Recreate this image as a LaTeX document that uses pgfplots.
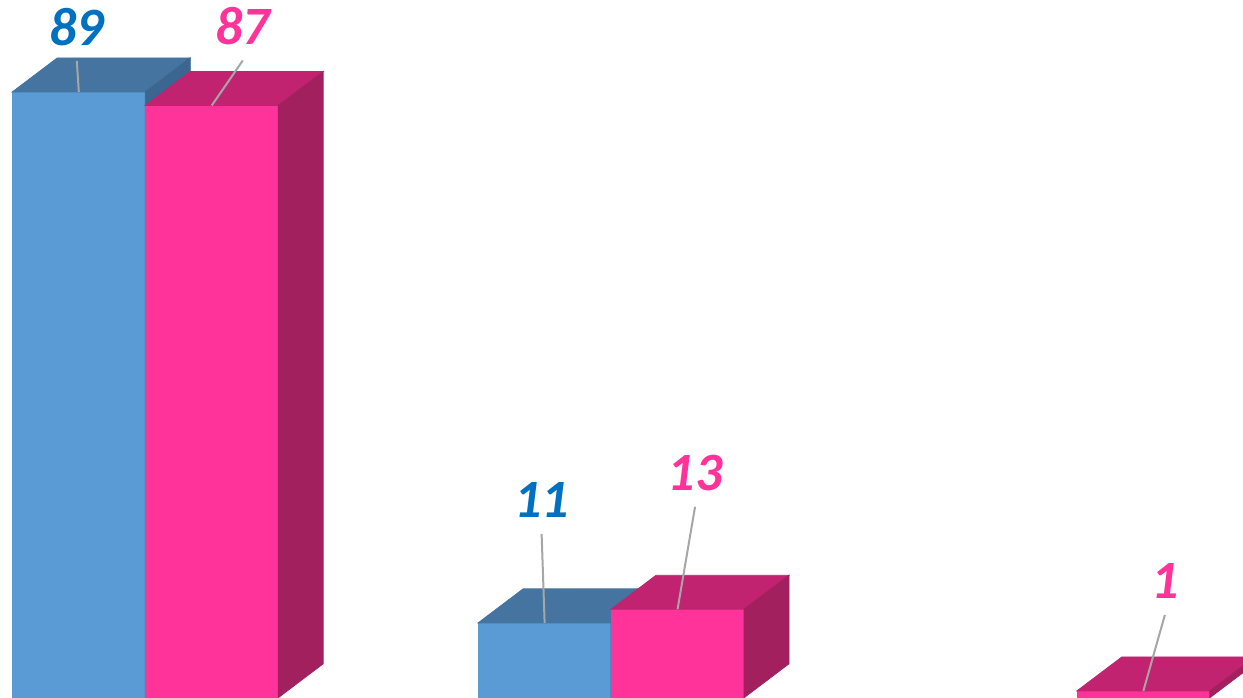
\documentclass[border=0pt]{standalone}
\usepackage{pgfplots}
\pgfplotsset{compat=1.18}
\usepackage{fontspec}
\setmainfont{Carlito}

\definecolor{bluefront}{HTML}{5B9BD5}
\definecolor{bluetop}{HTML}{44749F}
\definecolor{blueside}{HTML}{3A6690}
\definecolor{bluelbl}{HTML}{0070C0}
\definecolor{pinkfront}{HTML}{FF3399}
\definecolor{pinktop}{HTML}{C12370}
\definecolor{pinkside}{HTML}{A3205F}
\definecolor{pinklbl}{HTML}{FF3399}
\definecolor{leadgray}{HTML}{A6A6A6}

\pgfdeclareplotmark{nothing}{}

% 1px of the reference = 0.5pt; y unit = 6.81px per value
% #5 = horizontal offset of the bar centre from the category point (pt)
\pgfplotsset{
  bar3d/.style n args={5}{
    scatter, only marks, mark=nothing,
    visualization depends on={\thisrow{y}\as\v},
    visualization depends on={\thisrow{lx}\as\lx},
    visualization depends on={\thisrow{ly}\as\ly},
    scatter/@pre marker code/.code={%
      \pgfmathsetmacro\h{\v*3.405}%
      \pgfmathsetmacro\xa{#5-33.25}%
      \pgfmathsetmacro\xb{#5+33.25}%
      \pgfmathsetmacro\xc{#5+55.75}%
      \pgfmathsetmacro\xd{#5-10.75}%
      \pgfmathsetmacro\xm{#5}%
      \pgfmathsetmacro\xl{#5+\lx*0.5}%
      \pgfmathsetmacro\yl{\ly*0.5}%
      \pgfmathsetmacro\yt{\ly*0.5-17}%
      \pgfmathsetmacro\yb{17-\h}%
      \fill[#1] (\xa pt,0pt) rectangle (\xb pt,-\h pt);
      \fill[#2] (\xa pt,0pt) -- (\xb pt,0pt) -- (\xc pt,17pt) -- (\xd pt,17pt) -- cycle;
      \fill[#3] (\xb pt,0pt) -- (\xc pt,17pt) -- (\xc pt,\yb pt) -- (\xb pt,-\h pt) -- cycle;
      \draw[leadgray, line width=1pt] (\xm pt,0pt) -- (\xl pt,\yt pt);
      \pgfmathtruncatemacro\lab{\v}%
      \node[text=#4, font=\fontsize{27}{27}\selectfont\bfseries\itshape, inner sep=0pt]
        at (\xl pt,\yl pt) {\lab};
    },
    scatter/@post marker code/.code={},
  }
}

\pgfplotstableread{
x y lx ly
0 89 -2 65
1 11 -3 123
}\blueseries

\pgfplotstableread{
x y lx ly
0 87 31 79
1 13 17.5 136.5
2 1 21.5 110
}\pinkseries

\begin{document}
\begin{tikzpicture}
\begin{axis}[
  x=233pt, y=3.405pt,
  xmin=-0.3119, xmax=2.3566,
  ymin=0, ymax=102.5,
  hide axis,
  clip marker paths=true,
]
\addplot[bar3d={bluefront}{bluetop}{blueside}{bluelbl}{-33.25}] table {\blueseries};
\addplot[bar3d={pinkfront}{pinktop}{pinkside}{pinklbl}{33.25}] table {\pinkseries};
\end{axis}
\pgfresetboundingbox
\path (current axis.south west) rectangle (current axis.north east);
\end{tikzpicture}
\end{document}
